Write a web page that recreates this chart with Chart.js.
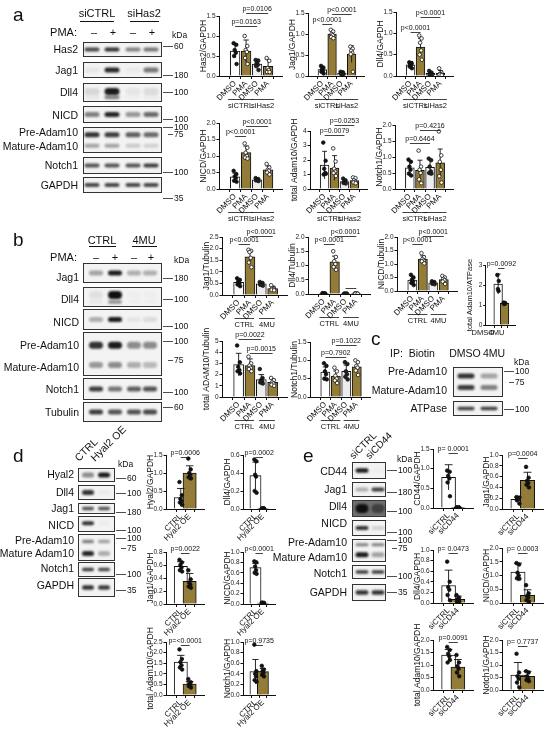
<!DOCTYPE html>
<html>
<head>
<meta charset="utf-8">
<script src="https://cdn.jsdelivr.net/npm/chart.js@4.4.0/dist/chart.umd.min.js"></script>
<style>
  body { margin: 0; background: #fff; }
  #fig { position: relative; width: 550px; height: 730px; overflow: hidden; font-family: "Liberation Sans", Arial, sans-serif; }
  #fig canvas { position: absolute; }
  .t { position: absolute; white-space: pre; line-height: 1; color: #111; }
</style>
</head>
<body>
<div id="fig"><canvas id="blots" width="550" height="730" style="left:0;top:0"></canvas></div>
<script>
// categories
const treat = ["DMSO", "PMA", "DMSO", "PMA"];
const groupsA = ["siCTRL", "siHas2"];
const groupsB = ["CTRL", "4MU"];
const condC = ["DMSO", "4MU"];
const condD = ["CTRL", "Hyal2 OE"];
const condE = ["siCTRL", "siCD44"];

// panel a (siCTRL / siHas2, DMSO / PMA)
const aHas2Mean = [0.62, 0.62, 0.30, 0.24];
const aHas2Sd = [0.17, 0.28, 0.12, 0.17];
const aHas2Pts = [[0.82, 0.78, 0.65, 0.58, 0.5, 0.3], [1.0, 0.75, 0.65, 0.6, 0.45, 0.3], [0.4, 0.38, 0.32, 0.28, 0.25, 0.15], [0.45, 0.38, 0.2, 0.15, 0.1, 0.1]];
const aJag1Mean = [0.15, 1.0, 0.07, 0.52];
const aJag1Sd = [0.07, 0.08, 0.03, 0.2];
const aJag1Pts = [[0.24, 0.2, 0.16, 0.13, 0.1, 0.06], [1.1, 1.06, 1.0, 0.97, 0.93, 0.9], [0.1, 0.09, 0.07, 0.06, 0.05, 0.04], [0.7, 0.65, 0.6, 0.55, 0.52, 0.1]];
const aDll4Mean = [0.26, 0.68, 0.06, 0.07];
const aDll4Sd = [0.08, 0.2, 0.04, 0.06];
const aDll4Pts = [[0.32, 0.3, 0.28, 0.26, 0.22, 0.18], [0.95, 0.88, 0.78, 0.6, 0.5, 0.38], [0.12, 0.08, 0.06, 0.04, 0.03, 0.02], [0.18, 0.08, 0.05, 0.04, 0.03, 0.02]];
const aNicdMean = [0.37, 1.1, 0.28, 0.58];
const aNicdSd = [0.11, 0.2, 0.04, 0.12];
const aNicdPts = [[0.55, 0.45, 0.38, 0.33, 0.25, 0.22], [1.38, 1.25, 1.1, 1.0, 0.95, 0.92], [0.33, 0.3, 0.28, 0.27, 0.26, 0.24], [0.76, 0.65, 0.58, 0.55, 0.5, 0.44]];
const aAdamMean = [1.65, 1.45, 0.52, 0.58];
const aAdamSd = [0.95, 0.85, 0.12, 0.2];
const aAdamPts = [[3.2, 1.95, 1.4, 1.1, 1.0, 1.05], [2.8, 1.9, 1.4, 1.2, 1.1, 0.9], [0.72, 0.6, 0.5, 0.45, 0.42, 0.38], [0.8, 0.75, 0.6, 0.5, 0.45, 0.4]];
const aNotchMean = [0.66, 0.58, 0.68, 0.82];
const aNotchSd = [0.22, 0.32, 0.25, 0.43];
const aNotchPts = [[0.92, 0.85, 0.7, 0.6, 0.48, 0.42], [1.2, 0.7, 0.6, 0.5, 0.3, 0.18], [0.95, 0.9, 0.7, 0.55, 0.5, 0.48], [1.8, 1.05, 0.85, 0.6, 0.4, 0.2]];

// panel b (CTRL / 4MU, DMSO / PMA)
const bJag1Mean = [0.55, 1.65, 0.48, 0.28];
const bJag1Sd = [0.13, 0.25, 0.07, 0.1];
const bJag1Pts = [[0.72, 0.65, 0.58, 0.5, 0.45, 0.38], [1.95, 1.9, 1.85, 1.6, 1.4, 1.2], [0.56, 0.52, 0.5, 0.46, 0.44, 0.4], [0.42, 0.3, 0.28, 0.25, 0.22, 0.2]];
const bDll4Mean = [0.02, 1.13, 0.01, 0.01];
const bDll4Sd = [0.01, 0.2, 0.01, 0.01];
const bDll4Pts = [[0.03, 0.02, 0.02, 0.01, 0.01, 0.01], [1.5, 1.3, 1.15, 1.05, 0.95, 0.85], [0.01, 0.01, 0.01, 0.01, 0.01, 0.01], [0.02, 0.01, 0.01, 0.01, 0.01, 0.01]];
const bNicdMean = [0.4, 1.18, 0.3, 0.42];
const bNicdSd = [0.15, 0.12, 0.06, 0.1];
const bNicdPts = [[0.6, 0.5, 0.42, 0.35, 0.3, 0.22], [1.4, 1.25, 1.18, 1.12, 1.1, 1.02], [0.36, 0.33, 0.3, 0.28, 0.27, 0.25], [0.56, 0.5, 0.45, 0.4, 0.35, 0.26]];
const bAtpMean = [2.05, 1.08];
const bAtpSd = [0.5, 0.04];
const bAtpPts = [[2.5, 2.2, 1.8, 1.7], [1.12, 1.1, 1.08, 1.06, 1.05]];
const bAdamMean = [2.9, 2.8, 1.55, 1.3];
const bAdamSd = [1.0, 0.6, 0.45, 0.3];
const bAdamPts = [[4.6, 3.1, 2.7, 2.4, 2.3, 2.1], [3.6, 3.0, 2.8, 2.6, 2.5, 2.3], [2.5, 1.7, 1.5, 1.4, 1.3, 1.2], [1.7, 1.5, 1.3, 1.2, 1.1, 1.0]];
const bNotchMean = [0.68, 0.57, 0.7, 0.82];
const bNotchSd = [0.14, 0.14, 0.17, 0.15];
const bNotchPts = [[0.92, 0.85, 0.7, 0.62, 0.5, 0.48], [0.8, 0.7, 0.58, 0.5, 0.45, 0.38], [0.95, 0.9, 0.7, 0.62, 0.55, 0.48], [1.0, 0.95, 0.85, 0.8, 0.72, 0.6]];

// panel d (CTRL / Hyal2 OE)
const dHyalMean = [0.32, 1.0];
const dHyalSd = [0.25, 0.2];
const dHyalPts = [[0.75, 0.38, 0.28, 0.22, 0.18, 0.12], [1.4, 1.1, 1.0, 0.95, 0.88, 0.85]];
const dDll4Mean = [0.37, 0.005];
const dDll4Sd = [0.15, 0.002];
const dDll4Pts = [[0.55, 0.53, 0.38, 0.36, 0.2, 0.18], [0.006, 0.005, 0.004, 0.005, 0.004, 0.006]];
const dJag1Mean = [0.58, 0.35];
const dJag1Sd = [0.07, 0.12];
const dJag1Pts = [[0.68, 0.64, 0.6, 0.56, 0.52, 0.5], [0.52, 0.38, 0.33, 0.3, 0.27, 0.25]];
const dNicdMean = [0.7, 0.02];
const dNicdSd = [0.08, 0.005];
const dNicdPts = [[0.82, 0.8, 0.72, 0.65, 0.6, 0.58], [0.025, 0.02, 0.02, 0.015, 0.02, 0.02]];
const dAdamMean = [1.55, 0.52];
const dAdamSd = [0.32, 0.12];
const dAdamPts = [[2.15, 1.7, 1.55, 1.4, 1.3, 1.2], [0.75, 0.6, 0.52, 0.48, 0.42, 0.35]];
const dNotchMean = [0.44, 0.44];
const dNotchSd = [0.23, 0.06];
const dNotchPts = [[0.95, 0.45, 0.4, 0.35, 0.28, 0.25], [0.55, 0.48, 0.45, 0.42, 0.38, 0.35]];

// panel e (siCTRL / siCD44)
const eCd44Mean = [0.78, 0.01];
const eCd44Sd = [0.32, 0.005];
const eCd44Pts = [[0.95, 0.92, 0.82, 0.75, 0.65, 0.3], [0.01, 0.01, 0.01, 0.01, 0.01, 0.01]];
const eJag1Mean = [0.18, 0.53];
const eJag1Sd = [0.04, 0.15];
const eJag1Pts = [[0.22, 0.21, 0.2, 0.18, 0.16, 0.1], [0.78, 0.58, 0.52, 0.48, 0.45, 0.4]];
const eDll4Mean = [0.33, 0.07];
const eDll4Sd = [0.29, 0.06];
const eDll4Pts = [[0.78, 0.4, 0.3, 0.25, 0.15, 0.05], [0.15, 0.1, 0.07, 0.05, 0.03, 0.02]];
const eNicdMean = [1.12, 0.28];
const eNicdSd = [0.33, 0.2];
const eNicdPts = [[1.45, 1.4, 1.1, 1.0, 0.9, 0.88], [0.65, 0.35, 0.25, 0.2, 0.1, 0.05]];
const eAdamMean = [1.4, 0.92];
const eAdamSd = [0.22, 0.3];
const eAdamPts = [[1.72, 1.6, 1.45, 1.35, 1.1, 1.2], [1.4, 1.1, 0.95, 0.85, 0.7, 0.55]];
const eNotchMean = [0.6, 0.55];
const eNotchSd = [0.5, 0.2];
const eNotchPts = [[1.45, 0.7, 0.55, 0.45, 0.3, 0.1], [0.75, 0.7, 0.55, 0.45, 0.4, 0.35]];

// ---- styling ----
const OLIVE = "#927c38";
const fill4 = ["#ffffff", OLIVE, "#ececec", OLIVE];
const dot4 = ["#111", "#fff", "#222", "#fff"];
const fill2 = ["#ffffff", OLIVE];
const dot2 = ["#111", "#111"];
const jitter = [-0.2, 0.16, -0.06, 0.1, -0.14, 0.2];
const FONT = '"Liberation Sans", Arial, sans-serif';
Chart.defaults.font.family = FONT;

const fig = document.getElementById("fig");

function T(s, x, y, size, align) {
  const d = document.createElement("div");
  d.className = "t";
  d.textContent = s;
  d.style.left = x + "px";
  d.style.top = y + "px";
  d.style.fontSize = size + "px";
  const tx = align === "r" ? "-100%" : align === "c" ? "-50%" : "0";
  d.style.transform = "translate(" + tx + ",-50%)";
  fig.appendChild(d);
}
// text rotated -45deg, bottom-left corner at x,y
function R(s, x, y, size) {
  const d = document.createElement("div");
  d.className = "t";
  d.textContent = s;
  d.style.left = x + "px";
  d.style.top = y + "px";
  d.style.fontSize = size + "px";
  d.style.transformOrigin = "0 0";
  d.style.transform = "rotate(-45deg) translate(0,-100%)";
  fig.appendChild(d);
}

// ---- western blot strips (picture, drawn by hand) ----
const g = document.getElementById("blots").getContext("2d");
function blot(x0, x1, rows, lanes, bw) {
  rows.forEach(([y0, y1, bands, bg]) => {
    g.fillStyle = bg || "#f3f3f3";
    g.fillRect(x0, y0, x1 - x0, y1 - y0);
    bands.forEach(([pos, levels, th]) => {
      const yc = y0 + (y1 - y0) * pos;
      levels.forEach((v, i) => {
        g.save();
        g.filter = "blur(1.1px)";
        g.fillStyle = "rgba(15,15,15," + v + ")";
        g.beginPath();
        g.roundRect(lanes[i] - bw / 2, yc - th / 2, bw, th, th / 2);
        g.fill();
        g.restore();
      });
    });
    g.strokeStyle = "#333";
    g.lineWidth = 1;
    g.strokeRect(x0 + 0.5, y0 + 0.5, x1 - x0 - 1, y1 - y0 - 1);
  });
}
function markers(x, list) {
  g.strokeStyle = "#222";
  g.lineWidth = 0.8;
  list.forEach(([y, txt, short]) => {
    g.beginPath();
    g.moveTo(x + (short ? 6 : 1), y + 0.5);
    g.lineTo(x + 11, y + 0.5);
    g.stroke();
    T(txt, x + 12, y, 8.5, "l");
  });
}
function hline(xa, xb, y) {
  g.strokeStyle = "#111";
  g.lineWidth = 1;
  g.beginPath();
  g.moveTo(xa, y + 0.5);
  g.lineTo(xb, y + 0.5);
  g.stroke();
}

// panel a blot
T("a", 13, 14, 19, "l");
T("siCTRL", 97, 13, 11, "c"); hline(80, 114, 21);
T("siHas2", 144, 13, 11, "c"); hline(130, 159, 21);
T("PMA:", 77, 32, 11, "r");
[["–", 94], ["+", 113], ["–", 133], ["+", 152]].forEach(([s, x]) => T(s, x, 32, 11, "c"));
T("kDa", 172, 35, 8.5, "l");
blot(83, 162, [
  [42, 57, [[0.5, [0.75, 0.85, 0.5, 0.55], 4]]],
  [62, 78, [[0.5, [0.06, 0.9, 0.04, 0.55], 5]]],
  [83, 102, [[0.45, [0.12, 0.95, 0.06, 0.1], 7], [0.75, [0.05, 0.5, 0.02, 0.04], 4]]],
  [106, 123, [[0.5, [0.5, 0.9, 0.4, 0.6], 5]]],
  [127, 153, [[0.3, [0.85, 0.8, 0.65, 0.6], 5], [0.72, [0.35, 0.35, 0.18, 0.15], 4]]],
  [157, 174, [[0.5, [0.7, 0.7, 0.7, 0.8], 4]]],
  [177, 193, [[0.5, [0.75, 0.75, 0.75, 0.75], 4]]]
], [92, 112, 133, 151], 15);
[["Has2", 49], ["Jag1", 70], ["Dll4", 92], ["NICD", 115], ["Pre-Adam10", 132], ["Mature-Adam10", 146], ["Notch1", 165], ["GAPDH", 185]]
  .forEach(([s, y]) => T(s, 78, y, 10.5, "r"));
markers(162, [[46, "60"], [75, "180"], [92, "100"], [119, "100"], [127, "100"], [134, "75", true], [172, "100"], [198, "35"]]);

// panel b blot
T("b", 13, 239, 19, "l");
T("CTRL", 102, 240, 11, "c"); hline(89, 116, 246);
T("4MU", 144, 240, 11, "c"); hline(132, 157, 246);
T("PMA:", 77, 257, 11, "r");
[["–", 96], ["+", 115], ["–", 134], ["+", 151]].forEach(([s, x]) => T(s, x, 257, 11, "c"));
T("kDa", 174, 260, 8.5, "l");
blot(83, 162, [
  [263, 283, [[0.5, [0.35, 0.95, 0.3, 0.3], 5]]],
  [287, 307, [[0.4, [0.08, 1.0, 0.02, 0.02], 8], [0.75, [0.05, 0.4, 0.02, 0.02], 4]]],
  [309, 330, [[0.5, [0.3, 0.95, 0.06, 0.1], 5]]],
  [332, 376, [[0.3, [0.85, 0.95, 0.45, 0.45], 7], [0.75, [0.4, 0.45, 0.3, 0.25], 6]]],
  [378, 400, [[0.5, [0.8, 0.55, 0.65, 0.7], 5]]],
  [402, 422, [[0.5, [0.8, 0.7, 0.7, 0.75], 5]]]
], [96, 115, 134, 150], 14);
[["Jag1", 277], ["Dll4", 299], ["NICD", 322], ["Pre-Adam10", 345], ["Mature-Adam10", 367], ["Notch1", 389], ["Tubulin", 412]]
  .forEach(([s, y]) => T(s, 79, y, 10.5, "r"));
markers(162, [[278, "180"], [299, "100"], [326, "100"], [341, "100"], [360, "75", true], [392, "100"], [407, "60"]]);

// panel c blot
T("c", 371, 338, 19, "l");
T("IP:  Biotin", 390, 353, 10.5, "l");
T("DMSO", 465, 353, 10.5, "c");
T("4MU", 494, 353, 10.5, "c");
T("kDa", 514, 362, 8.5, "l");
blot(453, 503, [
  [367, 397, [[0.3, [0.85, 0.35], 5], [0.68, [0.8, 0.5], 5]]],
  [401, 416, [[0.5, [0.8, 0.8], 3.5]]]
], [466, 489], 17);
[["Pre-Adam10", 371], ["Mature-Adam10", 390], ["ATPase", 408]].forEach(([s, y]) => T(s, 447, y, 10.5, "r"));
markers(503, [[371, "100"], [382, "75", true], [409, "100"]]);

// panel d blot
T("d", 13, 455, 19, "l");
R("CTRL", 80, 463, 10.5);
R("Hyal2 OE", 96, 463, 10.5);
T("kDa", 118, 464, 8.5, "l");
blot(78, 115, [
  [468, 482, [[0.5, [0.45, 0.95], 5]]],
  [485, 500, [[0.5, [0.85, 0.04], 5]]],
  [503, 514, [[0.5, [0.7, 0.7], 3.5]]],
  [516, 532, [[0.45, [0.85, 0.03], 4]]],
  [534, 561, [[0.28, [0.5, 0.35], 3.5], [0.72, [0.9, 0.3], 5]]],
  [562, 577, [[0.5, [0.8, 0.75], 3.5]]],
  [578, 597, [[0.5, [0.85, 0.8], 4.5]]]
], [88, 104], 12);
[["Hyal2", 474], ["Dll4", 492], ["Jag1", 508], ["NICD", 525], ["Pre-Adam10", 540], ["Mature Adam10", 553], ["Notch1", 568], ["GAPDH", 585]]
  .forEach(([s, y]) => T(s, 74, y, 10.5, "r"));
markers(115, [[478, "60"], [493, "100"], [512, "180"], [530, "100"], [538, "100"], [548, "75", true], [574, "100"], [590, "35"]]);

// panel e blot
T("e", 303, 455, 19, "l");
R("siCTRL", 355, 461, 10);
R("siCD44", 371, 461, 10);
T("kDa", 397, 459, 8.5, "l");
blot(352, 386, [
  [462, 479, [[0.5, [0.95, 0.02], 4.5]]],
  [482, 497, [[0.5, [0.3, 0.8], 4]]],
  [500, 517, [[0.5, [1.0, 0.5], 9]], "#6f6f6f"],
  [520, 536, [[0.5, [0.85, 0.15], 4]]],
  [539, 562, [[0.25, [0.5, 0.5], 3], [0.68, [0.95, 0.35], 5]]],
  [565, 579, [[0.5, [0.8, 0.8], 3.5]]],
  [584, 601, [[0.5, [0.85, 0.85], 4.5]]]
], [362, 378], 13);
[["CD44", 471], ["Jag1", 489], ["Dll4", 506], ["NICD", 523], ["Pre-Adam10", 542], ["Mature Adam10", 557], ["Notch1", 573], ["GAPDH", 592]]
  .forEach(([s, y]) => T(s, 347, y, 10.5, "r"));
markers(386, [[470, "100"], [492, "180"], [511, "100"], [532, "100"], [540, "100"], [548, "75", true], [576, "100"], [592, "35"]]);

// ---- bar charts ----
function barChart(spec) {
  const [x0, x1, yTop, yBot] = spec.box;
  const YW = 20, PT = 26, PR = 8, XH = spec.xh;
  const n = spec.cats.length;
  const step = (x1 - x0) / (n - 1 + spec.pad[0] + spec.pad[1]);
  const cv = document.createElement("canvas");
  cv.width = x1 - x0 + YW + PR;
  cv.height = yBot - yTop + PT + XH;
  cv.style.left = (x0 - YW) + "px";
  cv.style.top = (yTop - PT) + "px";
  fig.appendChild(cv);

  const bars = spec.mean.map((m, i) => ({ x: i, y: m }));
  const pts = [], ptFill = [];
  spec.pts.forEach((arr, i) => arr.forEach((v, k) => {
    pts.push({ x: i + jitter[k % jitter.length] * spec.bp, y: v });
    ptFill.push(spec.dots[i]);
  }));

  const extras = {
    id: "extras",
    afterDatasetDraw(chart, args) {
      if (args.index !== 0) return;
      const ys = chart.scales.y, ctx = chart.ctx;
      ctx.save();
      ctx.strokeStyle = "#111";
      ctx.lineWidth = 0.9;
      args.meta.data.forEach((bar, i) => {
        const m = spec.mean[i], s = spec.sd[i];
        const yt = ys.getPixelForValue(m + s), yb = ys.getPixelForValue(Math.max(m - s, 0));
        const cap = bar.width * 0.28;
        ctx.beginPath();
        ctx.moveTo(bar.x, yb); ctx.lineTo(bar.x, yt);
        ctx.moveTo(bar.x - cap, yt); ctx.lineTo(bar.x + cap, yt);
        ctx.stroke();
      });
      ctx.restore();
    },
    afterDraw(chart) {
      const ctx = chart.ctx, ys = chart.scales.y, xs = chart.scales.x;
      const bx = i => xs.getPixelForValue(i);
      ctx.save();
      ctx.strokeStyle = "#111";
      ctx.fillStyle = "#111";
      ctx.lineWidth = 0.8;
      ctx.textAlign = "center";
      ctx.textBaseline = "bottom";
      ctx.font = "7px " + FONT;
      (spec.brackets || []).forEach(([i, j, v, txt]) => {
        const y = Math.round(ys.getPixelForValue(v)) + 0.5;
        ctx.beginPath();
        ctx.moveTo(bx(i), y); ctx.lineTo(bx(j), y);
        ctx.stroke();
        if (txt) ctx.fillText(txt, (bx(i) + bx(j)) / 2, y - 1);
      });
      if (spec.groups) {
        const base = chart.chartArea.bottom;
        ctx.font = "7.5px " + FONT;
        ctx.textBaseline = "middle";
        spec.groups.forEach((lab, k) => {
          const cx = (bx(2 * k) + bx(2 * k + 1)) / 2;
          const w = ctx.measureText(lab).width;
          const y = Math.round(base + 23) + 0.5;
          ctx.beginPath();
          ctx.moveTo(cx - w / 2, y); ctx.lineTo(cx + w / 2, y);
          ctx.stroke();
          ctx.fillText(lab, cx, base + 30);
        });
      }
      ctx.restore();
    }
  };

  new Chart(cv, {
    type: "bar",
    data: {
      datasets: [
        {
          type: "bar", data: bars, backgroundColor: spec.fills, grouped: false,
          borderColor: "#111", borderWidth: 1, barThickness: step * spec.bp, order: 2
        },
        {
          type: "scatter", data: pts, order: 1,
          pointRadius: 1.8, pointBackgroundColor: ptFill, pointBorderColor: "#111", pointBorderWidth: 0.8
        }
      ]
    },
    options: {
      responsive: false, animation: false, events: [],
      layout: { padding: { top: PT, right: PR, left: 0, bottom: 0 }, autoPadding: false },
      plugins: { legend: { display: false }, tooltip: { enabled: false } },
      scales: {
        x: {
          type: "linear", min: -spec.pad[0], max: n - 1 + spec.pad[1],
          afterFit: s => { s.height = XH; },
          afterBuildTicks: s => { s.ticks = spec.cats.map((c, i) => ({ value: i })); },
          border: { color: "#111", width: 1 },
          grid: { drawOnChartArea: false, color: "#111", tickLength: 3 },
          ticks: {
            autoSkip: false, minRotation: spec.rot, maxRotation: spec.rot, padding: 0,
            font: { size: spec.xfont || 8 }, color: "#111", align: spec.xalign || "center",
            callback: (v, i) => (spec.xlab || spec.cats)[i]
          }
        },
        y: {
          min: 0, max: spec.max,
          afterFit: s => { s.width = YW; },
          border: { color: "#111", width: 1 },
          grid: { drawOnChartArea: false, color: "#111", tickLength: 2.5 },
          ticks: {
            stepSize: spec.step, autoSkip: false, padding: 1, color: "#222",
            font: { size: 6.5 }, callback: v => Number(v).toFixed(spec.dec)
          },
          title: { display: true, text: spec.title, color: "#111", font: { size: spec.tfont || 8.5 }, padding: 0 }
        }
      }
    },
    plugins: [extras]
  });
}

const four = { cats: treat, fills: fill4, dots: dot4, bp: 0.66, rot: 45, xh: 38, pad: [0.75, 0.55] };
const two = { fills: fill2, dots: dot2, bp: 0.75, rot: 45, xh: 34, pad: [0.6, 0.55] };

// panel a charts
barChart({ ...four, groups: groupsA, box: [219, 282, 16, 76], max: 1.5, step: 0.5, dec: 1, title: "Has2/GAPDH",
  mean: aHas2Mean, sd: aHas2Sd, pts: aHas2Pts, brackets: [[0, 2, 1.25, "p=0.0163"], [1, 3, 1.575, "p=0.0106"]] });
barChart({ ...four, groups: groupsA, box: [308, 364, 13, 76], max: 1.5, step: 0.5, dec: 1, title: "Jag1/GAPDH",
  mean: aJag1Mean, sd: aJag1Sd, pts: aJag1Pts, brackets: [[0, 1, 1.25, "p<0.0001"], [1, 3, 1.48, "p<0.0001"]] });
barChart({ ...four, groups: groupsA, box: [396, 453, 12, 76], max: 1.5, step: 0.5, dec: 1, title: "Dll4/GAPDH",
  mean: aDll4Mean, sd: aDll4Sd, pts: aDll4Pts, brackets: [[0, 1, 1.03, "p<0.0001"], [1, 3, 1.38, "p<0.0001"]] });
barChart({ ...four, groups: groupsA, box: [219, 282, 123, 189], max: 2, step: 0.5, dec: 1, title: "NICD/GAPDH",
  mean: aNicdMean, sd: aNicdSd, pts: aNicdPts, brackets: [[0, 1, 1.6, "p<0.0001"], [1, 3, 1.9, "p<0.0001"]] });
barChart({ ...four, groups: groupsA, box: [310, 367, 131, 189], max: 4, step: 1, dec: 0, title: "total Adam10/GAPDH",
  mean: aAdamMean, sd: aAdamSd, pts: aAdamPts, brackets: [[0, 2, 3.72, "p=0.0079"], [1, 3, 4.4, "p=0.0253"]] });
barChart({ ...four, groups: groupsA, box: [395, 453, 125, 189], max: 2, step: 0.5, dec: 1, title: "Notch1/GAPDH",
  mean: aNotchMean, sd: aNotchSd, pts: aNotchPts, brackets: [[0, 2, 1.44, "p=0.6464"], [1, 3, 1.84, "p=0.4216"]] });

// panel b charts
barChart({ ...four, groups: groupsB, box: [222, 287, 237, 295], max: 2.5, step: 0.5, dec: 1, title: "Jag1/Tubulin",
  mean: bJag1Mean, sd: bJag1Sd, pts: bJag1Pts, brackets: [[0, 1, 2.2, "p<0.0001"], [1, 3, 2.54, "p<0.0001"]] });
barChart({ ...four, groups: groupsB, box: [308, 370, 237, 294], max: 2, step: 0.5, dec: 1, title: "Dll4/Tubulin",
  mean: bDll4Mean, sd: bDll4Sd, pts: bDll4Pts, brackets: [[0, 1, 1.75, "p<0.0001"], [1, 3, 2.03, "p<0.0001"], [2, 3, 0.2, ""]] });
barChart({ ...four, groups: groupsB, box: [397, 457, 237, 291], max: 2, step: 0.5, dec: 1, title: "NICD/Tubulin",
  mean: bNicdMean, sd: bNicdSd, pts: bNicdPts, brackets: [[0, 1, 1.74, "p<0.0001"], [1, 3, 2.04, "p<0.0001"]] });
barChart({ cats: condC, xlab: ["DMSO  ", "4MU"], fills: fill2, dots: dot2, bp: 0.62, rot: 0, xh: 14, xfont: 7.5, xalign: "end",
  pad: [0.8, 0.5], box: [483, 515, 265, 325], max: 3, step: 1, dec: 0, title: "total Adam10/ATPase", tfont: 7.5,
  mean: bAtpMean, sd: bAtpSd, pts: bAtpPts, brackets: [[0, 1, 2.85, "p=0.0092"]] });
barChart({ ...four, groups: groupsB, box: [222, 287, 341, 397], max: 5, step: 1, dec: 0, title: "total ADAM10/Tubulin",
  mean: bAdamMean, sd: bAdamSd, pts: bAdamPts, brackets: [[0, 2, 5.18, "p=0.0022"], [1, 3, 3.93, "p=0.0015"]] });
barChart({ ...four, groups: groupsB, box: [310, 370, 342, 397], max: 1.5, step: 0.5, dec: 1, title: "Notch1/Tubulin",
  mean: bNotchMean, sd: bNotchSd, pts: bNotchPts, brackets: [[0, 2, 1.09, "p=0.7902"], [1, 3, 1.42, "p=0.1022"]] });

// panel d charts
barChart({ ...two, cats: condD, box: [166, 204, 455, 509], max: 1.5, step: 0.5, dec: 1, title: "Hyal2/GAPDH",
  mean: dHyalMean, sd: dHyalSd, pts: dHyalPts, brackets: [[0, 1, 1.44, "p=0.0006"]] });
barChart({ ...two, cats: condD, box: [243, 275, 455, 509], max: 0.6, step: 0.2, dec: 1, title: "Dll4/GAPDH",
  mean: dDll4Mean, sd: dDll4Sd, pts: dDll4Pts, brackets: [[0, 1, 0.58, "p=0.0002"]] });
barChart({ ...two, cats: condD, box: [166, 204, 552, 604], max: 0.8, step: 0.2, dec: 1, title: "Jag1/GAPDH",
  mean: dJag1Mean, sd: dJag1Sd, pts: dJag1Pts, brackets: [[0, 1, 0.785, "p=0.0022"]] });
barChart({ ...two, cats: condD, box: [243, 275, 552, 604], max: 1.0, step: 0.2, dec: 1, title: "NICD/GAPDH",
  mean: dNicdMean, sd: dNicdSd, pts: dNicdPts, brackets: [[0, 1, 0.98, "p<0.0001"]] });
barChart({ ...two, cats: condD, box: [166, 204, 642, 695], max: 2.5, step: 0.5, dec: 1, title: "total Adam10/GAPDH",
  mean: dAdamMean, sd: dAdamSd, pts: dAdamPts, brackets: [[0, 1, 2.36, "p=<0.0001"]] });
barChart({ ...two, cats: condD, box: [243, 275, 642, 695], max: 1.0, step: 0.2, dec: 1, title: "Notch1/GAPDH",
  mean: dNotchMean, sd: dNotchSd, pts: dNotchPts, brackets: [[0, 1, 0.94, "p=0.9735"]] });

// panel e charts
barChart({ ...two, cats: condE, box: [433, 473, 449, 508], max: 1.5, step: 0.5, dec: 1, title: "CD44/GAPDH",
  mean: eCd44Mean, sd: eCd44Sd, pts: eCd44Pts, brackets: [[0, 1, 1.4, "p= 0.0001"]] });
barChart({ ...two, cats: condE, box: [502, 543, 455, 509], max: 1.0, step: 0.2, dec: 1, title: "Jag1/GAPDH",
  mean: eJag1Mean, sd: eJag1Sd, pts: eJag1Pts, brackets: [[0, 1, 0.94, "p=0.0004"]] });
barChart({ ...two, cats: condE, box: [433, 473, 550, 603], max: 1.0, step: 0.2, dec: 1, title: "Dll4/GAPDH",
  mean: eDll4Mean, sd: eDll4Sd, pts: eDll4Pts, brackets: [[0, 1, 0.94, "p= 0.0473"]] });
barChart({ ...two, cats: condE, box: [502, 543, 548, 603], max: 2.0, step: 0.5, dec: 1, title: "NICD/GAPDH",
  mean: eNicdMean, sd: eNicdSd, pts: eNicdPts, brackets: [[0, 1, 1.82, "p= 0.0003"]] });
barChart({ ...two, cats: condE, box: [433, 473, 640, 690], max: 2.0, step: 0.5, dec: 1, title: "total Adam10/GAPDH",
  mean: eAdamMean, sd: eAdamSd, pts: eAdamPts, brackets: [[0, 1, 1.92, "p=0.0091"]] });
barChart({ ...two, cats: condE, box: [502, 543, 640, 690], max: 2.0, step: 0.5, dec: 1, title: "Notch1/GAPDH",
  mean: eNotchMean, sd: eNotchSd, pts: eNotchPts, brackets: [[0, 1, 1.76, "p= 0.7737"]] });
</script>
</body>
</html>
